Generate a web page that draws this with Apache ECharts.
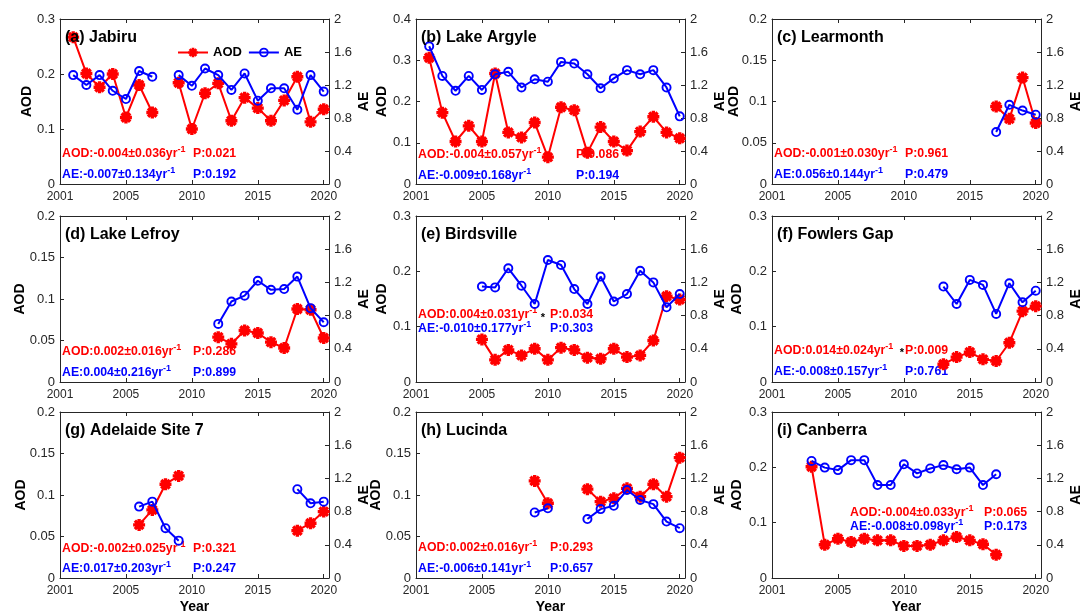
<!DOCTYPE html>
<html><head><meta charset="utf-8">
<script src="https://cdn.jsdelivr.net/npm/echarts@6/dist/echarts.min.js"></script>
<style>html,body{margin:0;padding:0;background:#fff}#c{width:1083px;height:614px}</style>
</head><body><div id="c"></div>
<script>
// ---------------- data ----------------
const years = [2001,2002,2003,2004,2005,2006,2007,2008,2009,2010,2011,2012,2013,2014,2015,2016,2017,2018,2019,2020];
const xTickValues = [2000, 2005, 2010, 2015, 2020];
const xTickLabels = ['2001', '2005', '2010', '2015', '2020'];
const titles = ['(a) Jabiru','(b) Lake Argyle','(c) Learmonth','(d) Lake Lefroy','(e) Birdsville','(f) Fowlers Gap','(g) Adelaide Site 7','(h) Lucinda','(i) Canberra'];

const aodJabiru = [0.267,0.201,0.176,0.200,0.121,0.180,0.130,null,0.184,0.100,0.165,0.183,0.115,0.157,0.138,0.115,0.152,0.195,0.113,0.136];
const aeJabiru  = [1.32,1.20,1.32,1.13,1.03,1.37,1.30,null,1.32,1.19,1.40,1.32,1.14,1.34,1.01,1.16,1.16,0.90,1.32,1.12];

const aodArgyle = [0.306,0.173,0.103,0.141,0.103,0.268,0.125,0.113,0.149,0.065,0.186,0.179,0.076,0.138,0.103,0.081,0.127,0.163,0.125,0.111];
const aeArgyle  = [1.67,1.31,1.13,1.31,1.14,1.33,1.36,1.17,1.27,1.24,1.48,1.46,1.33,1.16,1.28,1.38,1.33,1.38,1.17,0.82];

const aodLearmonth = [null,null,null,null,null,null,null,null,null,null,null,null,null,null,null,null,0.094,0.079,0.129,0.074];
const aeLearmonth  = [null,null,null,null,null,null,null,null,null,null,null,null,null,null,null,null,0.63,0.96,0.89,0.84];

const aodLefroy = [null,null,null,null,null,null,null,null,null,null,null,0.054,0.046,0.062,0.059,0.048,0.041,0.088,0.087,0.053];
const aeLefroy  = [null,null,null,null,null,null,null,null,null,null,null,0.70,0.97,1.04,1.22,1.11,1.12,1.27,0.89,0.72];

const aodBirdsville = [null,null,null,null,0.077,0.040,0.058,0.048,0.060,0.040,0.062,0.058,0.044,0.042,0.060,0.045,0.048,0.075,0.155,0.149];
const aeBirdsville  = [null,null,null,null,1.15,1.14,1.37,1.16,0.94,1.47,1.41,1.12,0.94,1.27,0.97,1.06,1.34,1.20,0.90,1.06];

const aodFowlers = [null,null,null,null,null,null,null,null,null,null,null,null,0.032,0.045,0.054,0.041,0.038,0.071,0.128,0.137];
const aeFowlers  = [null,null,null,null,null,null,null,null,null,null,null,null,1.15,0.94,1.23,1.17,0.82,1.19,0.96,1.10];

const aodAdelaide = [null,null,null,null,null,0.064,0.082,0.113,0.123,null,null,null,null,null,null,null,null,0.057,0.066,0.080];
const aeAdelaide  = [null,null,null,null,null,0.86,0.92,0.60,0.45,null,null,null,null,null,null,null,null,1.07,0.90,0.92];

const aodLucinda = [null,null,null,null,null,null,null,null,0.117,0.090,null,null,0.107,0.092,0.096,0.108,0.098,0.113,0.098,0.145];
const aeLucinda  = [null,null,null,null,null,null,null,null,0.79,0.84,null,null,0.71,0.83,0.87,1.06,0.94,0.89,0.68,0.60];

const aodCanberra = [null,null,0.201,0.060,0.071,0.065,0.071,0.068,0.068,0.058,0.058,0.060,0.068,0.074,0.068,0.061,0.042,null,null,null];
const aeCanberra  = [null,null,1.41,1.33,1.30,1.42,1.42,1.12,1.12,1.37,1.26,1.32,1.36,1.31,1.33,1.12,1.25,null,null,null];

const aodMaxes = [0.3,0.4,0.2,0.2,0.3,0.3,0.2,0.2,0.3];
const aodIntervals = [0.1,0.1,0.05,0.05,0.1,0.1,0.05,0.05,0.1];

const aodTrendText = ['AOD:-0.004±0.036yr','AOD:-0.004±0.057yr','AOD:-0.001±0.030yr','AOD:0.002±0.016yr','AOD:0.004±0.031yr','AOD:0.014±0.024yr','AOD:-0.002±0.025yr','AOD:0.002±0.016yr','AOD:-0.004±0.033yr'];
const aodPText = ['P:0.021','P:0.086','P:0.961','P:0.286','P:0.034','P:0.009','P:0.321','P:0.293','P:0.065'];
const aeTrendText = ['AE:-0.007±0.134yr','AE:-0.009±0.168yr','AE:0.056±0.144yr','AE:0.004±0.216yr','AE:-0.010±0.177yr','AE:-0.008±0.157yr','AE:0.017±0.203yr','AE:-0.006±0.141yr','AE:-0.008±0.098yr'];
const aePText = ['P:0.192','P:0.194','P:0.479','P:0.899','P:0.303','P:0.761','P:0.247','P:0.657','P:0.173'];
const significant = [false,false,false,false,true,true,false,false,false];

const aodSeries = [aodJabiru,aodArgyle,aodLearmonth,aodLefroy,aodBirdsville,aodFowlers,aodAdelaide,aodLucinda,aodCanberra];
const aeSeries  = [aeJabiru,aeArgyle,aeLearmonth,aeLefroy,aeBirdsville,aeFowlers,aeAdelaide,aeLucinda,aeCanberra];

// ---------------- layout ----------------
const FONT = '"Liberation Sans", Arial, Helvetica, sans-serif';
const gridLeft = [60, 416, 772];
const gridTop = [19, 216, 412];
const gridH = [165, 166, 166];
const GW = 269;
// annotation offsets relative to grid: [textX, aodY, aeY, pX]
const annot = [
  [2,135,156,133],[2,136,157,160],[2,135,156,133],
  [2,136,157,133],[2,99,113,134],[2,135,156,133],
  [2,137,157,133],[2,136,157,134],[78,101,115,212]
];
const starPos = {4:[127,102], 5:[130,137]};
const leftNameOffset = [33,34,38,40,34,35,39,40,35];
const rightNameOffset = 35;

const STAR = 'path://M-5,-1.4L5,-1.4L5,1.4L-5,1.4Z M-1.4,-5L1.4,-5L1.4,5L-1.4,5Z M-2.546,-4.525L4.525,2.546L2.546,4.525L-4.525,-2.546Z M-4.525,2.546L2.546,-4.525L4.525,-2.546L-2.546,4.525Z';
const RING = 'path://M0,-5A5,5,0,1,1,0,5A5,5,0,1,1,0,-5Z M0,-3.1A3.1,3.1,0,1,0,0,3.1A3.1,3.1,0,1,0,0,-3.1Z';
const AX = '#262626';
const ANN = 12.3;

const grids = [], xAxes = [], yAxes = [], series = [], graphics = [];
function pairs(arr){ return years.map((y,i)=>[y, arr[i]==null ? '-' : arr[i]]); }
function xLabel(v){ const k = xTickValues.indexOf(v); return k >= 0 ? xTickLabels[k] : ''; }

for (let i = 0; i < 9; i++) {
  const r = Math.floor(i/3), c = i%3;
  const L = gridLeft[c], T = gridTop[r], GH = gridH[r];
  grids.push({left:L, top:T, width:GW, height:GH, containLabel:false});
  xAxes.push({
    gridIndex:i, type:'value', min:2000, max:2020.4, position:'bottom',
    axisLine:{show:true, onZero:false, lineStyle:{color:AX, width:1}},
    axisTick:{show:true, inside:true, length:4, customValues:xTickValues, lineStyle:{color:AX}},
    axisLabel:{show:true, customValues:xTickValues, formatter:xLabel, fontSize:12, color:AX, fontFamily:FONT, margin:7},
    splitLine:{show:false}
  });
  xAxes.push({
    gridIndex:i, type:'value', min:2000, max:2020.4, position:'top',
    axisLine:{show:true, onZero:false, lineStyle:{color:AX, width:1}},
    axisTick:{show:true, inside:true, length:4, customValues:xTickValues, lineStyle:{color:AX}},
    axisLabel:{show:false}, splitLine:{show:false}
  });
  yAxes.push({
    gridIndex:i, type:'value', position:'left', min:0, max:aodMaxes[i], interval:aodIntervals[i],
    axisLine:{show:true, onZero:false, lineStyle:{color:AX, width:1}},
    axisTick:{show:true, inside:true, length:4, lineStyle:{color:AX}},
    axisLabel:{fontSize:13, color:AX, fontFamily:FONT, margin:5},
    splitLine:{show:false}
  });
  yAxes.push({
    gridIndex:i, type:'value', position:'right', min:0, max:2, interval:0.4,
    axisLine:{show:true, onZero:false, lineStyle:{color:AX, width:1}},
    axisTick:{show:true, inside:true, length:4, lineStyle:{color:AX}},
    axisLabel:{fontSize:13, color:AX, fontFamily:FONT, margin:5},
    splitLine:{show:false}
  });
  series.push({
    name:'AOD', type:'line', xAxisIndex:2*i, yAxisIndex:2*i, data:pairs(aodSeries[i]),
    color:'#ff0000', lineStyle:{color:'#ff0000', width:2}, itemStyle:{color:'#ff0000'},
    symbol:STAR, symbolSize:12, showAllSymbol:true, connectNulls:false, z:3
  });
  series.push({
    name:'AE', type:'line', xAxisIndex:2*i, yAxisIndex:2*i+1, data:pairs(aeSeries[i]),
    color:'#0000ff', lineStyle:{color:'#0000ff', width:2}, itemStyle:{color:'#0000ff'},
    symbol:RING, symbolSize:10, showAllSymbol:true, connectNulls:false, z:4
  });
  // axis names
  graphics.push({type:'text', x:L-leftNameOffset[i], y:T+GH/2, rotation:Math.PI/2, z:10,
    style:{text:'AOD', font:'bold 14px '+FONT, fill:'#000', align:'center', verticalAlign:'middle'}});
  graphics.push({type:'text', x:L+GW+rightNameOffset, y:T+GH/2, rotation:Math.PI/2, z:10,
    style:{text:'AE', font:'bold 14px '+FONT, fill:'#000', align:'center', verticalAlign:'middle'}});
  if (r === 2) {
    graphics.push({type:'text', x:L+GW/2, y:T+GH+29, z:10,
      style:{text:'Year', font:'bold 14px '+FONT, fill:'#000', align:'center', verticalAlign:'middle'}});
  }
  // title
  graphics.push({type:'text', x:L+5, y:T+19, z:10,
    style:{text:titles[i], font:'bold 16px '+FONT, fill:'#000', verticalAlign:'middle', align:'left'}});
  const a = annot[i];
  const rich = (col)=>({
    m:{fontSize:ANN, fontWeight:'bold', fontFamily:FONT, fill:col, lineHeight:18, verticalAlign:'middle'},
    s:{fontSize:9, fontWeight:'bold', fontFamily:FONT, fill:col, verticalAlign:'top', lineHeight:18}
  });
  graphics.push({type:'text', x:L+a[0], y:T+a[1], z:1,
    style:{text:'{m|'+aodTrendText[i]+'}{s|-1}', rich:rich('#ff0000'), fill:'#ff0000', verticalAlign:'middle', align:'left'}});
  graphics.push({type:'text', x:L+a[3], y:T+a[1], z:1,
    style:{text:aodPText[i], font:'bold '+ANN+'px '+FONT, fill:'#ff0000', verticalAlign:'middle', align:'left'}});
  graphics.push({type:'text', x:L+a[0], y:T+a[2], z:1,
    style:{text:'{m|'+aeTrendText[i]+'}{s|-1}', rich:rich('#0000ff'), fill:'#0000ff', verticalAlign:'middle', align:'left'}});
  graphics.push({type:'text', x:L+a[3], y:T+a[2], z:1,
    style:{text:aePText[i], font:'bold '+ANN+'px '+FONT, fill:'#0000ff', verticalAlign:'middle', align:'left'}});
  if (significant[i]) {
    const sp = starPos[i];
    graphics.push({type:'text', x:L+sp[0], y:T+sp[1], z:1,
      style:{text:'*', font:'bold 11px '+FONT, fill:'#000', verticalAlign:'middle', align:'center'}});
  }
}

const chart = echarts.init(document.getElementById('c'), null, {renderer:'canvas', width:1083, height:614});
chart.setOption({
  animation:false,
  backgroundColor:'#ffffff',
  textStyle:{fontFamily:FONT},
  legend:{
    data:['AOD','AE'], left:177, top:46, padding:0, itemWidth:30, itemHeight:12, itemGap:6,
    textStyle:{fontFamily:FONT, fontWeight:'bold', fontSize:13, color:'#000'}
  },
  grid:grids, xAxis:xAxes, yAxis:yAxes, series:series, graphic:graphics
});
</script>
</body></html>
